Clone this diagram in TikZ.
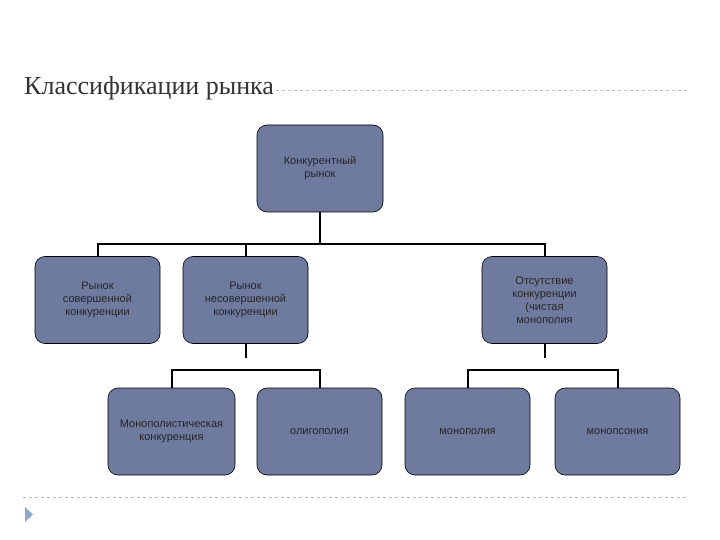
\documentclass[tikz,border=0pt]{standalone}
\usepackage{fontspec}
\setmainfont{Liberation Sans}
\newfontfamily\titlefont{Liberation Serif}
\begin{document}
\begin{tikzpicture}[x=1pt,y=-1pt,
  box/.style={draw=black,fill=boxc,rounded corners=10pt,minimum width=125pt,minimum height=87pt,align=center,font=\fontsize{11}{13}\selectfont,text=black!85,line width=0.6pt},
  conn/.style={line width=2pt,black}]
\definecolor{boxc}{HTML}{6F7A9F}
\definecolor{dashc}{HTML}{B8B8B8}
\definecolor{tric}{HTML}{8FAAC8}
\useasboundingbox (0,0) rectangle (720,540);
\fill[white] (0,0) rectangle (720,540);
\node[anchor=west,font=\titlefont\fontsize{26}{30}\selectfont,text=black!80,inner sep=0] (title) at (24,88) {Классификации рынка};
\coordinate (d1) at (688,90);
\draw[dashc,dashed,line width=0.7pt] (title.east) ++(2,2) -- (d1);
\coordinate (b1) at (23,497); \coordinate (b2) at (688,497);
\draw[dashc,dashed,line width=0.7pt] (b1) -- (b2);
\fill[tric] (25,507) -- (33,514.5) -- (25,522) -- cycle;
\node[box,minimum width=126pt] (root) at (320,168.5) {Конкурентный\\рынок};
\node[box] (a) at (97.5,300) {Рынок\\совершенной\\конкуренции};
\node[box] (b) at (245.5,300) {Рынок\\несовершенной\\конкуренции};
\node[box] (c) at (544.5,300) {Отсутствие\\конкуренции\\(чистая\\монополия};
\node[box,minimum width=127pt] (d) at (171.5,431.5) {Монополистическая\\конкуренция};
\node[box] (e) at (319.5,431.5) {олигополия};
\node[box] (f) at (467.5,431.5) {монополия};
\node[box] (g) at (617.5,431.5) {монопсония};
\draw[conn] (root.south) -- ++(0,33) coordinate (r1);
\draw[conn] (a.north) -- ++(0,-12) -| (c.north);
\draw[conn] (b.north) -- ++(0,-12);
\draw[conn] (b.south) -- ++(0,14) coordinate (r2);
\draw[conn] (d.north) -- ++(0,-17.5) -| (e.north);
\draw[conn] (c.south) -- ++(0,14);
\draw[conn] (f.north) -- ++(0,-17.5) -| (g.north);
\end{tikzpicture}
\end{document}
